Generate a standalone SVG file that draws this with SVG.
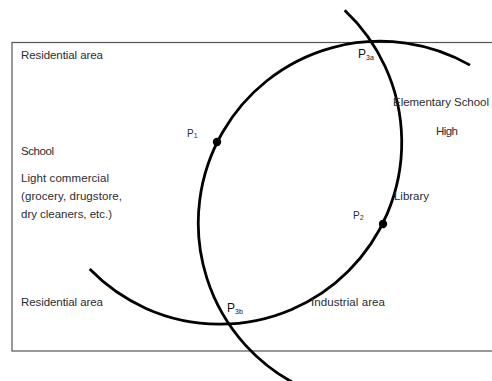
<svg xmlns="http://www.w3.org/2000/svg" width="492" height="381" viewBox="0 0 492 381">
<style>
.t{font-family:"Liberation Sans",Arial,sans-serif;font-size:11.5px;fill:#2b2b33}
.p{font-family:"Liberation Sans",Arial,sans-serif;font-size:12px;fill:#111}
.s{font-size:7px}
.arc{fill:none;stroke:#000;stroke-width:2.8;stroke-linecap:butt}
</style>
<rect width="492" height="381" fill="#fff"/>
<rect x="12" y="42.5" width="490" height="308.5" fill="none" stroke="#555" stroke-width="1.2"/>
<g id="arcs">
<path class="arc" d="M344.7,10.3 A181.7,181.7 0 0 1 348.5,271 A181.7,181.7 0 0 1 89.7,269.1"/>
<path class="arc" d="M470,65.1 A181.7,181.7 0 0 0 222.6,132.2 A181.7,181.7 0 0 0 303.2,387.7"/>
</g>
<g id="points">
<circle cx="217" cy="142" r="4.2" fill="#000"/>
<circle cx="383" cy="224" r="4.2" fill="#000"/>
</g>
<g id="labels">
<text class="t" x="21" y="59" textLength="82">Residential area</text>
<text class="t" x="21" y="155" textLength="33">School</text>
<text class="t" x="21" y="182" textLength="88">Light commercial</text>
<text class="t" x="21" y="200" textLength="101">(grocery, drugstore,</text>
<text class="t" x="21" y="218" textLength="91">dry cleaners, etc.)</text>
<text class="t" x="21" y="306" textLength="82">Residential area</text>
<text class="t" x="393" y="106" textLength="96">Elementary School</text>
<text class="t" x="436" y="135" textLength="22">High</text>
<text class="t" x="394" y="200" textLength="35">Library</text>
<text class="t" x="311" y="306" textLength="74">Industrial area</text>
<text class="t" x="187" y="137" style="font-size:10px">P<tspan class="s" dy="1">1</tspan></text>
<text class="t" x="353" y="219" style="font-size:10px">P<tspan class="s" dy="1">2</tspan></text>
<text class="p" x="358" y="58">P<tspan class="s" dy="2">3a</tspan></text>
<text class="p" x="227" y="312">P<tspan class="s" dy="2">3b</tspan></text>
</g>
</svg>
